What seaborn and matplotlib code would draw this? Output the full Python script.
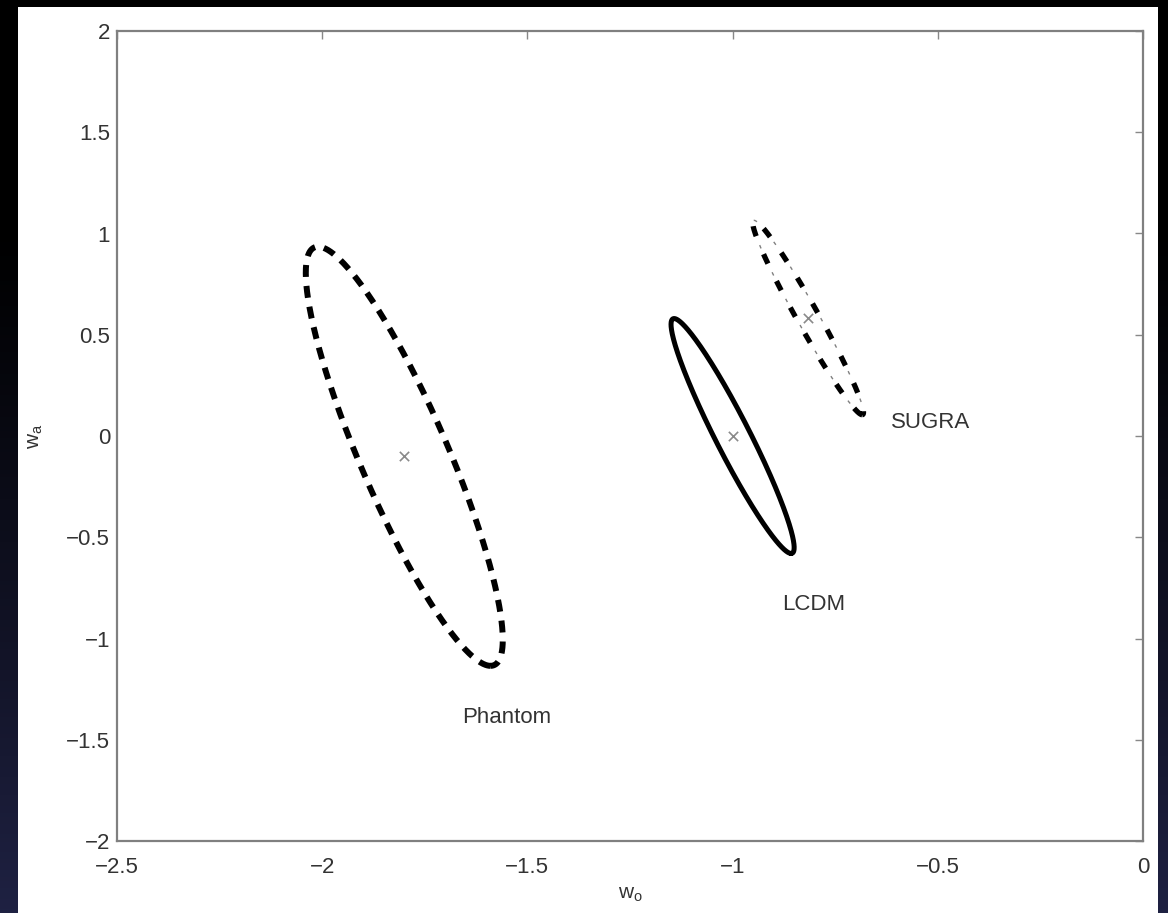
import numpy as np
import pandas as pd
import matplotlib
matplotlib.use('Agg')
import matplotlib.pyplot as plt
import seaborn as sns
from matplotlib.patches import Rectangle

# ---- data ----
models = ['Phantom', 'LCDM', 'SUGRA']
center_w0 = [-1.80, -1.00, -0.816]
center_wa = [-0.10, 0.00, 0.585]
half_w0 = [0.240, 0.150, 0.135]     # half extent of the contour along w0
half_wa = [1.035, 0.580, 0.480]     # half extent of the contour along wa
corr = [-0.875, -0.950, -0.975]     # w0-wa correlation of the contour
label_w0 = [-1.66, -0.88, -0.615]
label_wa = [-1.39, -0.83, 0.065]

x_ticks = [-2.5, -2, -1.5, -1, -0.5, 0]
x_ticklabels = ['\u22122.5', '\u22122', '\u22121.5', '\u22121', '\u22120.5', '0']
y_ticks = [-2, -1.5, -1, -0.5, 0, 0.5, 1, 1.5, 2]
y_ticklabels = ['\u22122', '\u22121.5', '\u22121', '\u22120.5', '0', '0.5', '1', '1.5', '2']

# ---- style ----
sns.set_style('white')
plt.rcParams['font.family'] = ['Liberation Sans', 'DejaVu Sans']
plt.rcParams['lines.scale_dashes'] = False

fig = plt.figure(figsize=(11.68, 9.13), dpi=100)

# slide background: black -> navy gradient
bg = fig.add_axes([0, 0, 1, 1], zorder=-10)
tt = np.linspace(0, 1, 256)[:, None]
frac = np.clip((tt - 0.25) / 0.75, 0, 1) ** 1.1
navy = np.array([0.12, 0.13, 0.26])
grad = frac[..., None] * navy[None, None, :]
grad = np.repeat(grad, 4, axis=1)
bg.imshow(grad, aspect='auto', extent=[0, 1, 0, 1], origin='upper')
bg.set_axis_off()
fig.patches.append(Rectangle((18 / 1168, 0), (1158 - 18) / 1168, 1 - 7 / 913,
                             transform=fig.transFigure, facecolor='white',
                             edgecolor='none', zorder=-5))

ax = fig.add_axes([117 / 1168, 1 - 841 / 913, (1143 - 117) / 1168, (841 - 31) / 913])
ax.set_facecolor('white')

line_styles = {
    'Phantom': dict(lw=4.3, linestyle=(0, (8.6, 6.5))),
    'LCDM': dict(lw=3.6, linestyle='-'),
    'SUGRA': dict(lw=3.8, linestyle=(0, (7.5, 14.0))),
}

for i, m in enumerate(models):
    d = np.arccos(corr[i])
    t = np.linspace(np.pi - d, 3 * np.pi - d, 600)
    df = pd.DataFrame({
        'w0': center_w0[i] + half_w0[i] * np.cos(t),
        'wa': center_wa[i] + half_wa[i] * np.cos(t + d),
    })
    sns.lineplot(data=df, x='w0', y='wa', sort=False, estimator=None,
                 color='black', ax=ax, **line_styles[m])
    if m == 'SUGRA':
        sns.lineplot(data=df, x='w0', y='wa', sort=False, estimator=None,
                     color='#808080', lw=1.0, linestyle=(21.5 - 12.0, (2.6, 18.9)), ax=ax)

centers = pd.DataFrame({'w0': center_w0, 'wa': center_wa})
sns.scatterplot(data=centers, x='w0', y='wa', marker='x', color='#8a8a8a',
                s=45, linewidth=1.2, ax=ax, zorder=5)

for i, m in enumerate(models):
    ax.text(label_w0[i], label_wa[i], m, fontsize=16, color='#333333',
            ha='left', va='center')

ax.set_xlim(-2.5, 0)
ax.set_ylim(-2, 2)
ax.set_xticks(x_ticks)
ax.set_xticklabels(x_ticklabels)
ax.set_yticks(y_ticks)
ax.set_yticklabels(y_ticklabels)
ax.tick_params(direction='in', length=6, width=1, color='#888888',
               top=True, right=True, labelsize=16, labelcolor='#333333')
ax.tick_params(axis='x', pad=11.5)
ax.tick_params(axis='y', pad=5)
for s in ax.spines.values():
    s.set_color('#808080')
    s.set_linewidth(1.6)

ax.set_xlabel(r'$\mathregular{w_o}$', fontsize=15, color='#333333', labelpad=5)
ax.set_ylabel(r'$\mathregular{w_a}$', fontsize=15, color='#333333', labelpad=15)

fig.savefig('out.png', dpi=100, facecolor='black')
